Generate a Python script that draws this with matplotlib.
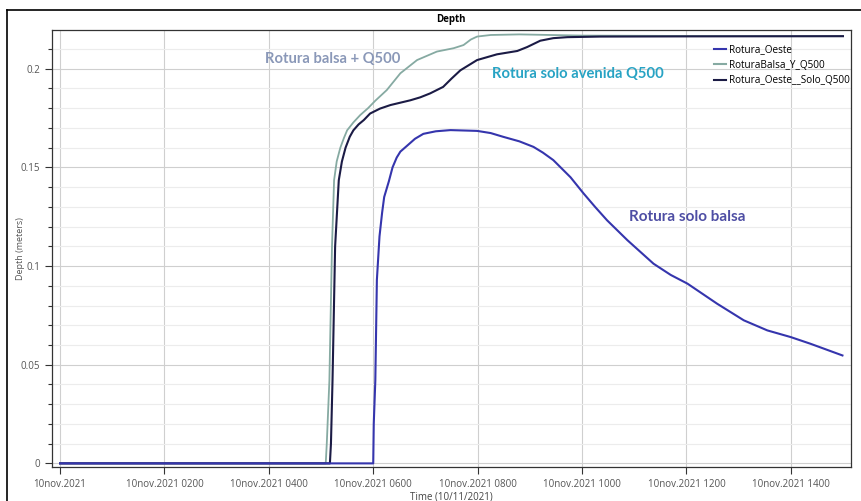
"""
Depth hydrograph - Rotura balsa / Q500
"""

import matplotlib.pyplot as plt
from matplotlib.ticker import MultipleLocator, FuncFormatter
from matplotlib.lines import Line2D

# time in hours from 10nov.2021 0000, depth in meters
oeste_t = [0, 6.0, 6.01, 6.04, 6.07, 6.12, 6.17, 6.21, 6.30, 6.37, 6.45, 6.52,
           6.65, 6.8, 6.96, 7.2, 7.48, 7.99, 8.25, 8.49, 8.8, 9.07, 9.25, 9.45,
           9.78, 10.03, 10.25, 10.48, 10.87, 11.37, 11.7, 12.02, 12.59, 13.10,
           13.55, 14.0, 14.38, 14.99]
oeste_d = [0, 0, 0.02, 0.042, 0.093, 0.115, 0.127, 0.135, 0.143, 0.150, 0.155,
           0.158, 0.161, 0.1645, 0.167, 0.1683, 0.1689, 0.1685, 0.1674, 0.1655,
           0.1632, 0.1604, 0.1575, 0.1537, 0.1450, 0.1368, 0.1300, 0.1232, 0.1131,
           0.1012, 0.0955, 0.0911, 0.0809, 0.0725, 0.0674, 0.064, 0.0606, 0.0547]

balsa_t = [0, 5.09, 5.11, 5.16, 5.21, 5.25, 5.30, 5.37, 5.44, 5.50, 5.62, 5.75,
           5.9, 6.04, 6.26, 6.52, 6.84, 7.22, 7.54, 7.73, 7.87, 7.99, 8.25, 8.8,
           10, 12, 14, 15]
balsa_d = [0, 0, 0.01, 0.042, 0.11, 0.1435, 0.153, 0.160, 0.165, 0.1688, 0.1728,
           0.1765, 0.1800, 0.1838, 0.1892, 0.1977, 0.2044, 0.2087, 0.2104, 0.212,
           0.2148, 0.2163, 0.2171, 0.2174, 0.2168, 0.2166, 0.2165, 0.2165]

solo_t = [0, 5.17, 5.19, 5.22, 5.27, 5.34, 5.40, 5.47, 5.55, 5.62, 5.72, 5.82,
          5.94, 6.13, 6.33, 6.52, 6.71, 6.9, 7.09, 7.34, 7.5, 7.67, 7.99, 8.37,
          8.6, 8.76, 8.95, 9.20, 9.45, 9.72, 10.35, 12, 15]
solo_d = [0, 0, 0.01, 0.042, 0.11, 0.1435, 0.153, 0.160, 0.1655, 0.1688, 0.1718,
          0.174, 0.1773, 0.1798, 0.1816, 0.1828, 0.184, 0.1855, 0.1875, 0.1908,
          0.1950, 0.1992, 0.2044, 0.2073, 0.2083, 0.209, 0.211, 0.2142, 0.2155,
          0.216, 0.2163, 0.2164, 0.2165]

tick_hours = [0, 2, 4, 6, 8, 10, 12, 14]
tick_labels = ['10nov.2021', '10nov.2021 0200', '10nov.2021 0400', '10nov.2021 0600',
               '10nov.2021 0800', '10nov.2021 1000', '10nov.2021 1200', '10nov.2021 1400']

c_oeste = '#3535ad'
c_balsa = '#86aaa2'
c_solo = '#1b1b45'

plt.rcParams['font.family'] = ['Open Sans', 'DejaVu Sans']

fig = plt.figure(figsize=(8.62, 5.01), dpi=100)
ax = fig.add_axes([0.060, 0.068, 0.927, 0.872])

ax.plot(balsa_t, balsa_d, color=c_balsa, lw=1.3)
ax.plot(solo_t, solo_d, color=c_solo, lw=1.5)
ax.plot(oeste_t, oeste_d, color=c_oeste, lw=1.5)

ax.set_xlim(-0.16, 15.15)
ax.set_ylim(-0.0018, 0.2196)
ax.set_xticks(tick_hours)
ax.set_xticklabels(tick_labels)
ax.yaxis.set_major_locator(MultipleLocator(0.05))
ax.yaxis.set_minor_locator(MultipleLocator(0.01))
ax.yaxis.set_major_formatter(FuncFormatter(lambda v, p: '0' if abs(v) < 1e-9 else '%g' % round(v, 3)))

ax.grid(which='major', color='#cfcfcf', lw=0.8)
ax.grid(which='minor', axis='y', color='#ececec', lw=0.8)
ax.set_axisbelow(True)
ax.tick_params(which='major', length=5, width=0.8, labelsize=7, colors='#333333', labelcolor='#555555')
ax.tick_params(which='minor', length=3, width=0.8, colors='#333333')
for s in ax.spines.values():
    s.set_color('#333333')
    s.set_linewidth(0.9)

ax.set_title('Depth', fontsize=7, fontweight='bold', pad=6)
ax.set_xlabel('Time (10/11/2021)', fontsize=7, color='#444444', labelpad=1)
ax.set_ylabel('Depth (meters)', fontsize=6.5, color='#555555')
ax.yaxis.set_label_coords(-0.034, 0.5)

lbl_font = ['Lato', 'DejaVu Sans']
ax.text(3.93, 0.205, 'Rotura balsa + Q500', fontsize=10.6, va='center',
        fontweight='bold', color='#8a98b8', family=lbl_font)
ax.text(8.28, 0.1973, 'Rotura solo avenida Q500', fontsize=10.6, va='center',
        fontweight='bold', color='#27a3c4', family=lbl_font)
ax.text(10.91, 0.1247, 'Rotura solo balsa', fontsize=11, va='center',
        fontweight='bold', color='#4e4ea4', family=lbl_font)

handles = [Line2D([], [], color=c_oeste, lw=1.5),
           Line2D([], [], color=c_balsa, lw=1.5),
           Line2D([], [], color=c_solo, lw=1.5)]
ax.legend(handles, ['Rotura_Oeste', 'RoturaBalsa_Y_Q500', 'Rotura_Oeste__Solo_Q500'],
          loc='upper left', bbox_to_anchor=(0.824, 0.977), frameon=False, fontsize=7.2,
          handlelength=1.2, handletextpad=0.3, labelspacing=0.45, borderaxespad=0)

# outer frame of the screenshot
fig.add_artist(Line2D([7 / 862, 7 / 862], [0, 1 - 10 / 501], color='black', lw=1.2))
fig.add_artist(Line2D([7 / 862, 1], [1 - 10 / 501, 1 - 10 / 501], color='black', lw=1.2))

fig.savefig('out.png', dpi=100)
